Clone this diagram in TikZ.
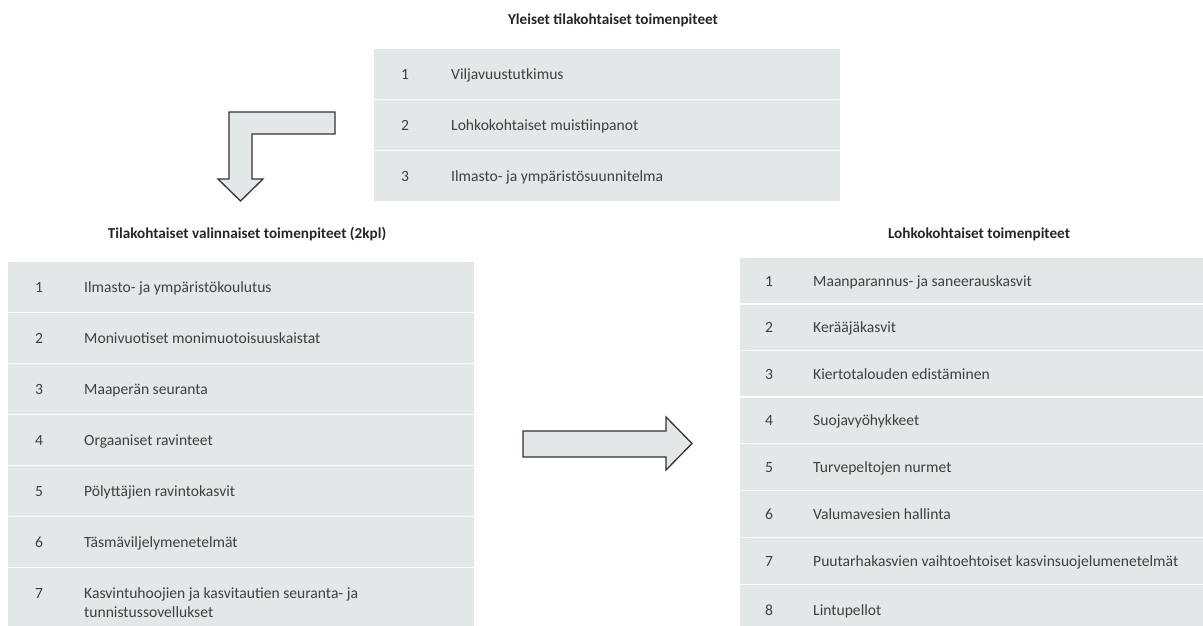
\documentclass[tikz,border=0pt]{standalone}
\usepackage{fontspec}
\setmainfont{Carlito}
\definecolor{rowfill}{HTML}{E4E7E7}
\definecolor{itemcol}{HTML}{404040}
\definecolor{titlecol}{HTML}{262626}
\definecolor{arrowline}{HTML}{333333}
\newcommand{\tabrow}[9]{%
  \node[rowbox, minimum width={#3-#2}, minimum height={#5-#4-1.5}] (#1) at ({#2},{#4}) {};
  \node[numtxt] (#1n) at ({#6},{(#4+#5)/2+5}) {#8};
  \node[itemtxt] (#1t) at ({#7},{(#4+#5)/2+5}) {#9};
}
\begin{document}
\begin{tikzpicture}[x=1pt,y=-1pt,
  rowbox/.style={fill=rowfill, draw=none, inner sep=0pt, anchor=north west},
  numtxt/.style={text=itemcol, inner sep=0pt, anchor=base, font=\fontsize{15.6}{19}\selectfont},
  itemtxt/.style={text=itemcol, inner sep=0pt, anchor=base west, font=\fontsize{15.6}{19}\selectfont},
  titletxt/.style={text=titlecol, inner sep=0pt, anchor=base, font=\fontsize{15.2}{19}\selectfont\bfseries},
  blockarrow/.style={fill=rowfill, draw=arrowline, line width=1.3pt, line join=miter}]
\useasboundingbox (0,0) rectangle (1203,625);

% top table
\node[titletxt] (ttitle) at (613,24) {Yleiset tilakohtaiset toimenpiteet};
\tabrow{T1}{374}{840}{49}{100}{405}{451}{1}{Viljavuustutkimus}
\tabrow{T2}{374}{840}{100}{151}{405}{451}{2}{Lohkokohtaiset muistiinpanot}
\tabrow{T3}{374}{840}{151}{202}{405}{451}{3}{Ilmasto- ja ympäristösuunnitelma}

% left table
\node[titletxt] (ltitle) at (247,238) {Tilakohtaiset valinnaiset toimenpiteet (2kpl)};
\tabrow{L1}{8}{474}{262}{313}{39}{84}{1}{Ilmasto- ja ympäristökoulutus}
\tabrow{L2}{8}{474}{313}{364}{39}{84}{2}{Monivuotiset monimuotoisuuskaistat}
\tabrow{L3}{8}{474}{364}{415}{39}{84}{3}{Maaperän seuranta}
\tabrow{L4}{8}{474}{415}{466}{39}{84}{4}{Orgaaniset ravinteet}
\tabrow{L5}{8}{474}{466}{517}{39}{84}{5}{Pölyttäjien ravintokasvit}
\tabrow{L6}{8}{474}{517}{568}{39}{84}{6}{Täsmäviljelymenetelmät}
\node[rowbox, minimum width=466, minimum height=60] (L7) at (8,568) {};
\node[numtxt] (L7n) at (39,598) {7};
\node[itemtxt, anchor=north west, align=left] (L7t) at (84,587) {Kasvintuhoojien ja kasvitautien seuranta- ja\\tunnistussovellukset};

% right table
\node[titletxt] (rtitle) at (979,238) {Lohkokohtaiset toimenpiteet};
\tabrow{R1}{740}{1203}{258}{304.5}{769}{813}{1}{Maanparannus- ja saneerauskasvit}
\tabrow{R2}{740}{1203}{304.5}{351}{769}{813}{2}{Kerääjäkasvit}
\tabrow{R3}{740}{1203}{351}{397.5}{769}{813}{3}{Kiertotalouden edistäminen}
\tabrow{R4}{740}{1203}{397.5}{444}{769}{813}{4}{Suojavyöhykkeet}
\tabrow{R5}{740}{1203}{444}{491}{769}{813}{5}{Turvepeltojen nurmet}
\tabrow{R6}{740}{1203}{491}{538}{769}{813}{6}{Valumavesien hallinta}
\tabrow{R7}{740}{1203}{538}{585}{769}{813}{7}{Puutarhakasvien vaihtoehtoiset kasvinsuojelumenetelmät}
\tabrow{R8}{740}{1203}{585}{636}{769}{813}{8}{Lintupellot}

% bent arrow (top table -> left table)
\draw[blockarrow] (229,112) -- (335,112) -- (335,134) -- (252,134) -- (252,179)
  -- (263,179) -- (240.5,201) -- (218,179) -- (229,179) -- cycle;

% straight arrow (left table -> right table)
\draw[blockarrow] (523,431) -- (666,431) -- (666,417) -- (692,443.5) -- (666,470)
  -- (666,457) -- (523,457) -- cycle;
\end{tikzpicture}
\end{document}
